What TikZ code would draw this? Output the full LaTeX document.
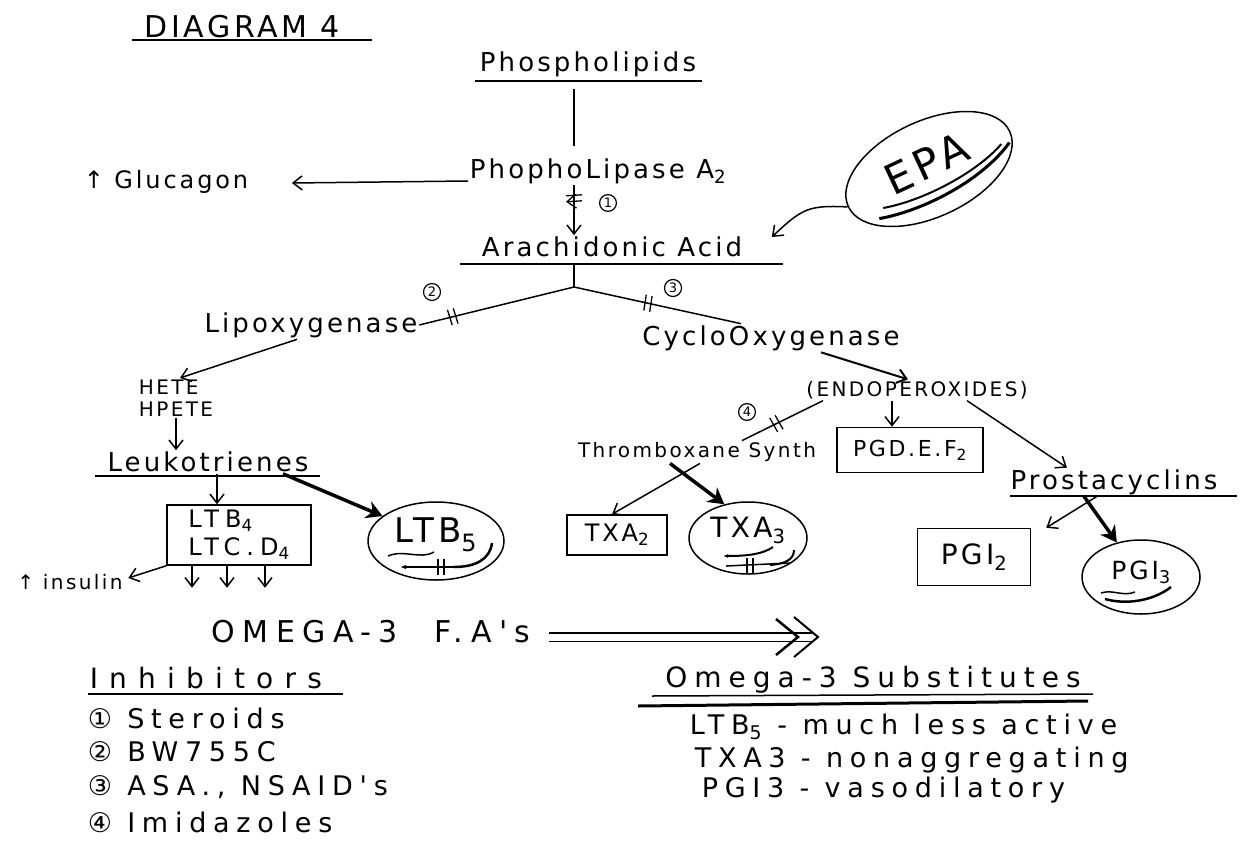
\documentclass[tikz,border=0pt]{standalone}
\usepackage{fontspec}
\setmainfont{DejaVu Sans}[LetterSpace=12]
\newfontfamily\wide{DejaVu Sans}[LetterSpace=25]
\newfontfamily\wider{DejaVu Sans}[LetterSpace=40]
\usetikzlibrary{arrows.meta,shapes.geometric,decorations.markings}

\begin{document}
\begin{tikzpicture}[x=1pt,y=-1pt,line width=1.5pt,
  >={Straight Barb[length=9pt,width=14pt]},
  lbl/.style={font=\fontsize{26}{28}\selectfont,inner sep=1pt},
  sml/.style={font=\fontsize{20}{22}\selectfont,inner sep=1pt},
  lst/.style={font=\wide\fontsize{27}{29}\selectfont,inner sep=1pt,anchor=west},
  box/.style={draw,inner sep=2pt},
  oval/.style={draw,ellipse,inner sep=0pt},
  num/.style={circle,draw,line width=1.2pt,inner sep=1.5pt,font=\fontsize{13}{13}\selectfont},
  fat/.style={line width=3.5pt,-{Stealth[length=16pt,width=18pt]}},
  brk/.style={postaction={decorate},decoration={markings,
    mark=at position #1 with {\draw[line width=1.3pt] (-3,-8)--(-2,8) (3,-8)--(4,8);}}}]
\useasboundingbox (0,0) rectangle (1241,840);

% top of the cascade
\node[font=\fontsize{30}{32}\selectfont] (ttl) at (242,27) {DIAGRAM 4};
\node[lbl] (ph) at (588,64) {Phospholipids};
\node[lbl] (pla) at (598,171) {PhophoLipase A\textsubscript{2}};
\node[lbl,font=\fontsize{24}{26}\selectfont] (gluc) at (166,182) {↑ Glucagon};
\node[lbl] (aa) at (612,247) {Arachidonic Acid};
\node[oval,rotate=25,minimum width=178,minimum height=96,font=\fontsize{42}{42}\selectfont] (epa) at (929,169) {\raisebox{12pt}{EPA}};
\coordinate (top) at (574,89);
\coordinate (mid) at (574,146);
\coordinate (stem) at (574,264);
\coordinate (fork) at (574,287);

\draw[line width=2pt] (132,40) -- (372,40);
\draw (475,81) -- (702,81);
\draw (460,264) -- (783,264);
\draw (top) -- (mid);
\draw[->] ([yshift=-10pt]pla.west) -- ([xshift=42pt,yshift=-1pt]gluc.east);
\draw[->,brk=0.25] (pla.south -| fork) -- (aa.north -| fork);
\node[num] (n1) at (608,203) {1};
\draw[->] (epa.west) .. controls +(-40,-2) and +(30,-28) .. ([xshift=28pt,yshift=10pt]aa.east);
\begin{scope}[shift={(epa.center)},rotate=25]
  \draw[line width=2pt] (-58,16) .. controls (-20,26) and (40,24) .. (76,8);
  \draw[line width=3pt] (-66,24) .. controls (-20,36) and (45,32) .. (84,10);
\end{scope}

% the two branches
\node[lbl] (lipox) at (311,325) {Lipoxygenase};
\node[lbl] (cox) at (771,338) {CycloOxygenase};
\draw (stem) -- (fork);
\draw[brk=0.78] (fork) -- (lipox.east);
\draw[brk=0.44] (fork) -- ([xshift=-30pt]cox.north);
\node[num] (n2) at (432,292) {2};
\node[num] (n3) at (673,288) {3};

% lipoxygenase side
\node[sml,align=left] (hete) at (176,398) {HETE\\HPETE};
\node[lbl] (leuk) at (208,462) {Leukotrienes};
\node[box,font=\wide\fontsize{24}{28}\selectfont,align=left,minimum width=144,minimum height=60] (ltb) at (239,535) {LTB\textsubscript{4}\\LTC.D\textsubscript{4}};
\node[oval,minimum width=136,minimum height=78,font=\fontsize{34}{34}\selectfont] (ltbf) at (436,541) {\raisebox{22pt}{LTB\textsubscript{5}}};
\node[sml] (ins) at (70,582) {↑ insulin};
\draw (95,476) -- (320,476);
\draw[->] ([xshift=-14pt]lipox.south) -- ([xshift=4pt]hete.north);
\draw[->] (hete.south) -- (hete.south |- leuk.north);
\draw[->] ([xshift=9pt]leuk.south) -- ([xshift=-22pt]ltb.north);
\draw[fat] ([xshift=75pt]leuk.south) -- (ltbf.155);
\draw[->] (ltb.south west) -- ([xshift=4pt,yshift=4pt]ins.east);
\foreach \dx in {-47,-12,26}
  \draw[->] ([xshift=\dx pt]ltb.south) -- ++(0,22);
\begin{scope}[shift={(ltbf.center)}]
  \draw (-48,15) .. controls (-32,8) and (-16,19) .. (-2,11);
  \draw[line width=2.5pt] (56,2) .. controls (54,18) and (40,26) .. (18,26);
  \draw[-{Latex[length=6pt]}] (18,26) -- (-36,26);
  \draw (2,18) -- (2,34) (8,18) -- (8,34);
\end{scope}

% cyclooxygenase side
\node[sml] (endo) at (917,390) {(ENDOPEROXIDES)};
\node[box,font=\fontsize{22}{24}\selectfont,minimum width=146,minimum height=45] (pgd) at (910,450) {PGD.E.F\textsubscript{2}};
\node[sml] (thx) at (697,452) {Thromboxane Synth};
\node[box,font=\fontsize{24}{26}\selectfont,minimum width=100,minimum height=40] (txa) at (617,535) {TXA\textsubscript{2}};
\node[oval,minimum width=118,minimum height=72,font=\fontsize{28}{28}\selectfont] (txb) at (748,538) {\raisebox{22pt}{TXA\textsubscript{3}}};
\node[lbl] (prost) at (1114,482) {Prostacyclins};
\node[box,font=\fontsize{28}{30}\selectfont,minimum width=113,minimum height=57] (pgi) at (974,557) {PGI\textsubscript{2}};
\node[oval,minimum width=118,minimum height=74,font=\fontsize{25}{25}\selectfont] (pgj) at (1141,577) {\raisebox{14pt}{PGI\textsubscript{3}}};
\draw (1010,496) -- (1237,496);
\draw[->,line width=2pt] ([xshift=50pt]cox.south) -- ([xshift=-9pt]endo.north);
\draw[->] ([xshift=-25pt]endo.south) -- ([xshift=-18pt]pgd.north);
\draw[->] ([xshift=50pt]endo.south) -- ([xshift=-47pt]prost.north);
\draw[brk=0.57] ([xshift=-94pt]endo.south) -- ([xshift=45pt]thx.north);
\node[num] (n4) at (747,412) {4};
\draw[->] ([xshift=3pt]thx.south) -- ([xshift=-5pt]txa.north);
\draw[fat] ([xshift=-27pt]thx.south) -- (txb.125);
\draw[->] ([xshift=-17pt]prost.south) -- ([xshift=15pt]pgi.north east);
\draw[fat] ([xshift=-30pt]prost.south) -- (pgj.125);
\begin{scope}[shift={(txb.center)}]
  \draw[line width=2pt,-{Latex[length=5pt]}] (25,9) .. controls (15,16) and (0,18) .. (-25,18);
  \draw (-22,28) -- (42,25);
  \draw (-1,20) -- (-1,35) (5,20) -- (5,35);
  \draw[line width=2pt] (46,12) .. controls (46,22) and (36,26) .. (22,27);
\end{scope}
\begin{scope}[shift={(pgj.center)}]
  \draw (-40,16) .. controls (-28,12) and (-18,20) .. (-6,15);
  \draw[line width=2.5pt] (-36,22) .. controls (-15,28) and (12,24) .. (30,10);
\end{scope}

% omega-3 and the two lists
\node[font=\wide\fontsize{30}{32}\selectfont] (omega) at (371,632) {OMEGA-3\hspace{1.2em}F.A's};
\coordinate (tip) at (818,637);
\draw[double,double distance=7pt,line width=1.6pt] ([xshift=14pt,yshift=-5pt]omega.east) -- ([xshift=-6pt]tip);
\draw[line width=2pt] (tip) ++(-24,-20) -- (tip) -- ++(-24,20);
\draw[line width=2.5pt] ([xshift=-20pt]tip) ++(-22,-18) -- ([xshift=-20pt]tip) -- ++(-22,18);
\node[lst,font=\wider\fontsize{28}{30}\selectfont] (inh) at (88,678) {Inhibitors};
\draw (88,694) -- (343,694);
\node[lst] (i1) at (86,718) {① Steroids};
\node[lst] (i2) at (86,752) {② BW755C};
\node[lst] (i3) at (86,787) {③ ASA., NSAID's};
\node[lst] (i4) at (86,822) {④ Imidazoles};
\node[font=\wide\fontsize{28}{30}\selectfont] (sub) at (873,680) {Omega-3 Substitutes};
\draw (652,696) -- (1093,694);
\draw[line width=3pt] (638,706) -- (1088,701);
\node[lst] (s1) at (688,727) {LTB\textsubscript{5} - much less active};
\node[lst] (s2) at (693,760) {TXA3 - nonaggregating};
\node[lst] (s3) at (700,790) {PGI3 - vasodilatory};
\end{tikzpicture}
\end{document}
